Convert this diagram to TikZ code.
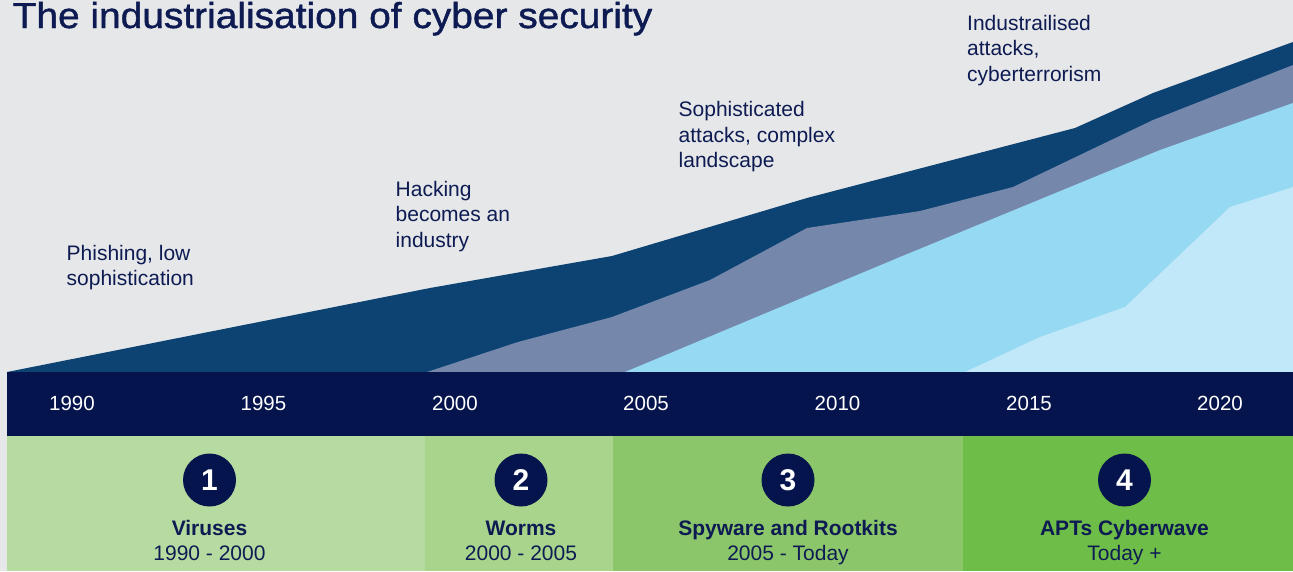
\documentclass[tikz,border=0pt]{standalone}
\usepackage{fontspec}
\setmainfont{Liberation Sans}
\newfontfamily\titlefont{Liberation Sans}[FakeStretch=1.08,FakeBold=1.2]
\definecolor{bgc}{HTML}{E6E7E9}
\definecolor{navy}{HTML}{05144D}
\definecolor{txt}{HTML}{0D1B52}
\definecolor{layerA}{HTML}{0C4373}
\definecolor{layerB}{HTML}{7587AB}
\definecolor{layerC}{HTML}{96D9F2}
\definecolor{layerD}{HTML}{C1E8F8}
\definecolor{panelA}{HTML}{B6DBA0}
\definecolor{panelB}{HTML}{A8D48C}
\definecolor{panelC}{HTML}{8CC66B}
\definecolor{panelD}{HTML}{6DBD48}
\tikzset{
  ann/.style={anchor=base west, align=left, inner sep=0pt, text=txt, font=\fontsize{21}{25.5}\selectfont},
  yearlbl/.style={anchor=base, inner sep=0pt, text=white, font=\fontsize{20.5}{24}\selectfont},
  numcirc/.style={circle, fill=navy, minimum size=53pt, inner sep=0pt, text=white, font=\bfseries\fontsize{30}{30}\selectfont},
  phase/.style={anchor=base, inner sep=0pt, text=txt, font=\bfseries\fontsize{21}{24}\selectfont},
  period/.style={anchor=base, inner sep=0pt, text=txt, font=\fontsize{21}{24}\selectfont}
}
\begin{document}
\begin{tikzpicture}[x=1pt,y=-1pt]
\useasboundingbox (0,0) rectangle (1293,571);
\fill[bgc] (0,0) rectangle (1293,571);
% title
\node[anchor=base west, inner sep=0pt, text=txt, font=\titlefont\fontsize{36}{40}\selectfont] (title) at (12.5,28) {The industrialisation of cyber security};
% area layers
\fill[layerA] (7,372) -- (430,288) -- (612,256) -- (807,198) -- (1075,128) -- (1153,93) -- (1293,42) -- (1293,372) -- cycle;
\fill[layerB] (427,372) -- (518,342) -- (612,317) -- (710,280) -- (807,228) -- (920,211) -- (1013,187) -- (1153,120) -- (1293,65) -- (1293,372) -- cycle;
\fill[layerC] (625,372) -- (900,257) -- (1160,150) -- (1293,103) -- (1293,372) -- cycle;
\fill[layerD] (965,372) -- (1040,337) -- (1125,307) -- (1230,207) -- (1293,187) -- (1293,372) -- cycle;
% annotations (anchor at baseline of the last line)
\node[ann] (a1) at (66.5,285.5) {Phishing, low\\sophistication};
\node[ann] (a2) at (395.5,247) {Hacking\\becomes an\\industry};
\node[ann] (a3) at (678.5,167.5) {Sophisticated\\attacks, complex\\landscape};
\node[ann] (a4) at (967,81) {Industrailised\\attacks,\\cyberterrorism};
% year bar
\fill[navy] (7,372) rectangle (1293,436);
\node[yearlbl] (y1990) at (72,410) {1990};
\node[yearlbl] (y1995) at (263.5,410) {1995};
\node[yearlbl] (y2000) at (455,410) {2000};
\node[yearlbl] (y2005) at (646,410) {2005};
\node[yearlbl] (y2010) at (837.5,410) {2010};
\node[yearlbl] (y2015) at (1029,410) {2015};
\node[yearlbl] (y2020) at (1220,410) {2020};
% phase panels
\fill[panelA] (7,436) rectangle (425,571);
\fill[panelB] (425,436) rectangle (612.5,571);
\fill[panelC] (612.5,436) rectangle (963,571);
\fill[panelD] (963,436) rectangle (1293,571);
\node[numcirc] (n1) at (209.5,480) {1};
\node[numcirc] (n2) at (521,480) {2};
\node[numcirc] (n3) at (788,480) {3};
\node[numcirc] (n4) at (1124.5,480) {4};
\node[phase] (p1) at (209.5,535) {Viruses};
\node[phase] (p2) at (521,535) {Worms};
\node[phase] (p3) at (788,535) {Spyware and Rootkits};
\node[phase] (p4) at (1124.5,535) {APTs Cyberwave};
\node[period] (d1) at (209.5,560) {1990 - 2000};
\node[period] (d2) at (521,560) {2000 - 2005};
\node[period] (d3) at (788,560) {2005 - Today};
\node[period] (d4) at (1124.5,560) {Today +};
\end{tikzpicture}
\end{document}
